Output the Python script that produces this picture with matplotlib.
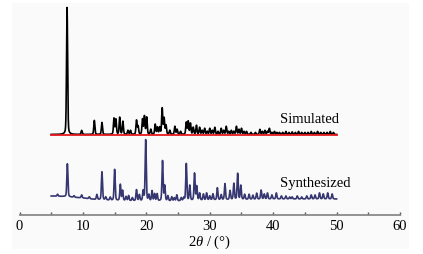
import numpy as np
import matplotlib
matplotlib.use("Agg")
import matplotlib.pyplot as plt
from matplotlib.patches import Rectangle

plt.rcParams['font.family'] = ['Liberation Serif', 'DejaVu Serif']
plt.rcParams['mathtext.fontset'] = 'custom'
plt.rcParams['mathtext.rm'] = 'Liberation Serif'
plt.rcParams['mathtext.it'] = 'Liberation Serif:italic'

# ---- data (y in arbitrary offset units) ----
sim_offset = 80.0
sim_pos = [7.5, 9.8, 11.8, 13.0, 14.9, 15.2, 15.8, 16.3, 17.1, 17.5, 18.45, 18.7,
           19.4, 19.7, 20.05, 20.7, 21.4, 21.75, 22.1, 22.5, 22.8, 23.1, 23.7,
           24.5, 24.85, 25.4, 26.3, 26.6, 26.95, 27.4, 27.9, 28.4, 28.8, 29.2,
           29.6, 30.0, 30.4, 30.8, 31.3, 31.8, 32.2, 32.6, 33.0, 33.4, 33.8,
           34.2, 34.6, 35.0, 35.4, 35.8, 36.5, 37.2, 37.9, 38.3, 38.7, 39.1,
           39.4, 39.8, 40.2, 40.6, 41.0, 41.5, 42.0, 42.5, 43.0, 43.5, 44.0,
           44.5, 45.0, 45.5, 46.0, 46.5, 47.0, 47.5, 48.0, 48.5, 49.0, 49.5]
sim_int = [127, 4, 14, 12, 16, 15, 17, 13, 4, 4, 14, 8,
           15, 18, 17, 5, 10, 7, 7, 26, 16, 9, 4,
           8, 5, 3, 12, 13, 11, 7, 9, 7, 4, 6,
           3, 6, 4, 7, 3, 6, 4, 8, 3, 4, 3,
           8, 5, 6, 3, 3, 2, 2, 5, 3, 4, 3,
           6, 2, 3, 2, 2, 2, 3, 2, 2.5, 2, 3,
           2, 2, 2, 3, 2, 3, 2, 2, 2, 3, 2]

syn_base_x = [5, 7, 10, 12, 15, 20, 25, 30, 35, 40, 45, 50]
syn_base_y = [18.5, 18, 16.5, 15, 14, 13.5, 13.5, 14.5, 15, 15.5, 15.5, 15.5]
syn_pos = [6.0, 7.55, 8.6, 9.8, 11.0, 12.2, 13.0, 13.6, 14.3, 15.0, 15.9, 16.25,
           16.8, 17.2, 17.8, 18.45, 18.9, 19.5, 19.9, 20.4, 20.9, 21.3, 21.7,
           22.55, 22.9, 23.4, 24.0, 24.4, 24.8, 25.5, 25.9, 26.3, 26.85, 27.6,
           27.95, 28.4, 29.0, 29.5, 30.0, 30.5, 31.2, 31.8, 32.4, 33.2, 33.8,
           34.4, 34.9, 35.5, 36.2, 36.8, 37.4, 38.1, 38.6, 39.1, 39.8, 40.5,
           41.3, 42.0, 42.6, 43.0, 43.8, 44.5, 45.3, 46.0, 46.6, 47.3, 47.9,
           48.6, 49.3]
syn_int = [2, 33, 1.5, 3, 2, 5, 28, 3, 3, 31, 16, 10,
           4, 5, 3, 11, 6, 10, 61, 6, 10, 7, 7,
           40, 15, 5, 4, 3, 6, 3, 3, 37, 15, 27,
           14, 7, 6, 7, 4, 6, 12, 5, 16, 9, 16,
           26, 14, 5, 5, 4, 6, 9, 5, 6, 4, 6,
           3, 3, 2, 2, 3, 2, 3, 4, 4, 6, 5,
           6, 5]

labels = ["Simulated", "Synthesized"]
xticks = [0, 10, 20, 30, 40, 50, 60]

# ---- build profiles ----
x = np.linspace(5, 50, 4501)

def profile(pos, inten, w):
    y = np.zeros_like(x)
    for p, h in zip(pos, inten):
        g = np.exp(-0.5 * ((x - p) / w) ** 2)
        l = 1.0 / (1.0 + ((x - p) / (1.2 * w)) ** 2)
        y += h * (0.7 * g + 0.3 * l)
    return y

sim_y = sim_offset + profile(sim_pos, sim_int, 0.085)
syn_y = np.interp(x, syn_base_x, syn_base_y) + profile(syn_pos, syn_int, 0.085)

W, H = 423, 255
fig = plt.figure(figsize=(W / 100, H / 100), dpi=100)
fig.patch.set_facecolor('white')
fig.add_artist(Rectangle((12 / W, 1 - 250 / H), (409 - 12) / W, (250 - 4) / H,
                         transform=fig.transFigure, facecolor='#fafafa',
                         edgecolor='none', zorder=-10))

ax = fig.add_axes([19.5 / W, 1 - 215.5 / H, (400 - 19.5) / W, (215.5 - 4) / H])
ax.set_facecolor('none')
ax.plot(x, sim_y, color='black', lw=1.2, zorder=3)
ax.plot([5, 50], [sim_offset, sim_offset], color='#e8191e', lw=1.3, zorder=4)
ax.plot(x, syn_y, color='#363670', lw=1.2, zorder=3)

ax.text(41.0, 89, labels[0], fontsize=10.5, ha='left', va='bottom')
ax.text(41.0, 25, labels[1], fontsize=10.5, ha='left', va='bottom')

ax.set_xlim(0, 60)
ax.set_ylim(0, 211.5)
for s in ['top', 'right', 'left']:
    ax.spines[s].set_visible(False)
ax.spines['bottom'].set_color('#8a8a8a')
ax.spines['bottom'].set_linewidth(1.3)
ax.set_yticks([])
ax.set_xticks(xticks)
ax.set_xticks(np.arange(5, 60, 10), minor=True)
ax.tick_params(axis='x', which='major', direction='in', length=2.5, width=1,
               color='#555555', labelsize=10.5, pad=3)
ax.tick_params(axis='x', which='minor', direction='in', length=2, width=1,
               color='#555555')
ax.set_xlabel(r'$2\theta$ / (°)', fontsize=10.5, labelpad=1)

fig.savefig('out.png', dpi=100, facecolor='white')
